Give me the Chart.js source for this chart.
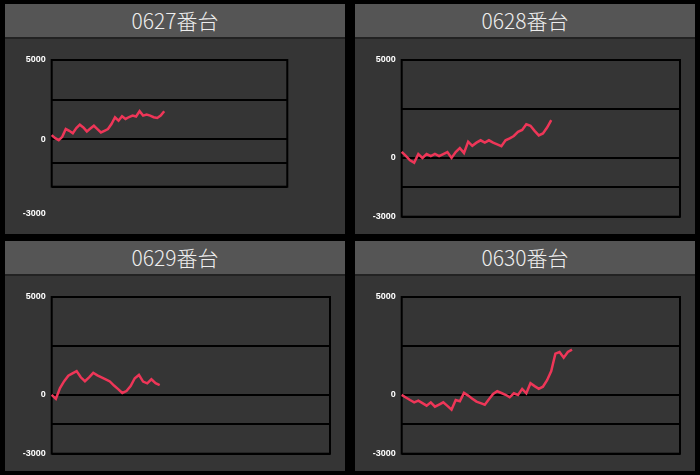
<!DOCTYPE html>
<html><head><meta charset="utf-8">
<script src="https://cdn.jsdelivr.net/npm/chart.js@4.4.1/dist/chart.umd.min.js"></script>
<style>
html,body{margin:0;padding:0;background:#000;width:700px;height:475px;overflow:hidden;}
.panel{position:absolute;width:340px;background:#353535;}
.head{height:33px;background:#555555;border-bottom:2px solid #222;color:#eeeeee;font:300 21px "Noto Sans CJK JP","Noto Sans",sans-serif;text-align:center;line-height:33px;}
.body{position:relative;width:340px;height:195px;}
canvas{display:block;}
</style></head><body>
<div class="panel" style="left:5px;top:4px"><div class="head">0627番台</div><div class="body"><canvas id="c1" width="340" height="195" style="width:340px;height:195px"></canvas></div></div>
<div class="panel" style="left:355px;top:4px"><div class="head">0628番台</div><div class="body"><canvas id="c2" width="340" height="195" style="width:340px;height:195px"></canvas></div></div>
<div class="panel" style="left:5px;top:241px"><div class="head">0629番台</div><div class="body"><canvas id="c3" width="340" height="196" style="width:340px;height:196px"></canvas></div></div>
<div class="panel" style="left:355px;top:241px"><div class="head">0630番台</div><div class="body"><canvas id="c4" width="340" height="196" style="width:340px;height:196px"></canvas></div></div>
<script>
// x positions (game steps) shared by every panel
const categories = Array.from({length: 68}, (_, i) => i);
// y axis ticks and which of them carry a label
const yTicks = [-3000, -1500, 0, 2500, 5000];
const yLabels = [5000, 0, -3000];
// series values
const data0627 = [255, 64, -64, 150, 640, 530, 380, 700, 915, 745, 490, 670, 850, 640, 425, 530, 640, 960, 1385, 1170, 1450, 1280, 1400, 1490, 1430, 1770, 1490, 1555, 1490, 1385, 1340, 1490, 1770];
const data0628 = [310, 100, -120, -240, 200, 0, 200, 90, 210, 90, 200, 300, 0, 300, 500, 250, 830, 620, 780, 900, 780, 900, 780, 690, 600, 900, 1000, 1120, 1330, 1430, 1720, 1640, 1380, 1150, 1250, 1550, 1930];
const data0629 = [0, -200, 350, 700, 980, 1100, 1220, 900, 700, 900, 1130, 1000, 900, 800, 690, 480, 300, 100, 200, 450, 850, 1020, 680, 590, 800, 600, 500];
const data0630 = [0, -130, -260, -377, -291, -420, -548, -377, -600, -490, -377, -560, -753, -257, -325, 103, -34, -190, -342, -420, -497, -220, 51, 188, 100, 10, -120, 86, 0, 308, 86, 600, 450, 308, 420, 750, 1215, 2106, 2191, 1900, 2191, 2311];

const lineColor = '#ee3658';
const labelFont = { size: 9, weight: 'bold', family: '"Liberation Sans", Arial, sans-serif' };

const framePlugin = {
  id: 'frame',
  beforeDatasetsDraw(chart) {
    const a = chart.chartArea, ctx = chart.ctx;
    ctx.save();
    ctx.strokeStyle = '#000';
    ctx.lineWidth = 2;
    ctx.strokeRect(a.left, a.top, a.right - a.left, a.bottom - a.top);
    ctx.restore();
  }
};

function makeChart(id, values, pad, detachedNeg) {
  const plugins = [framePlugin];
  if (detachedNeg) {
    plugins.push({
      id: 'negLabel',
      afterDraw(chart) {
        const ctx = chart.ctx;
        ctx.save();
        ctx.fillStyle = '#ffffff';
        ctx.font = 'bold 9px "Liberation Sans", Arial, sans-serif';
        ctx.textAlign = 'right';
        ctx.textBaseline = 'middle';
        ctx.fillText(String(yLabels[2]), chart.chartArea.left - 6, detachedNeg);
        ctx.restore();
      }
    });
  }
  return new Chart(document.getElementById(id), {
    type: 'line',
    data: {
      labels: categories,
      datasets: [{
        data: values,
        borderColor: lineColor,
        borderWidth: 2.5,
        pointRadius: 0,
        tension: 0,
        fill: false
      }]
    },
    options: {
      responsive: false,
      animation: false,
      layout: { padding: pad },
      plugins: { legend: { display: false }, tooltip: { enabled: false } },
      scales: {
        x: { display: false, offset: false },
        y: {
          min: -3000, max: 5000,
          afterBuildTicks: s => { s.ticks = yTicks.map(v => ({ value: v })); },
          afterFit: s => { s.width = 46.7; },
          ticks: {
            padding: 6,
            color: '#ffffff',
            font: labelFont,
            callback: v => (yLabels.includes(v) && !(detachedNeg && v === -3000)) ? String(v) : ''
          },
          grid: { color: '#000', lineWidth: 2, drawTicks: false },
          border: { display: false }
        }
      }
    },
    plugins: plugins
  });
}

makeChart('c1', data0627, { left: 0, top: 21, right: 57.7, bottom: 47.3 }, 174.3);
makeChart('c2', data0628, { left: 0, top: 21, right: 15, bottom: 17.3 }, null);
makeChart('c3', data0629, { left: 0, top: 21, right: 15, bottom: 18.3 }, null);
makeChart('c4', data0630, { left: 0, top: 21, right: 15, bottom: 18.3 }, null);
</script>
</body></html>
